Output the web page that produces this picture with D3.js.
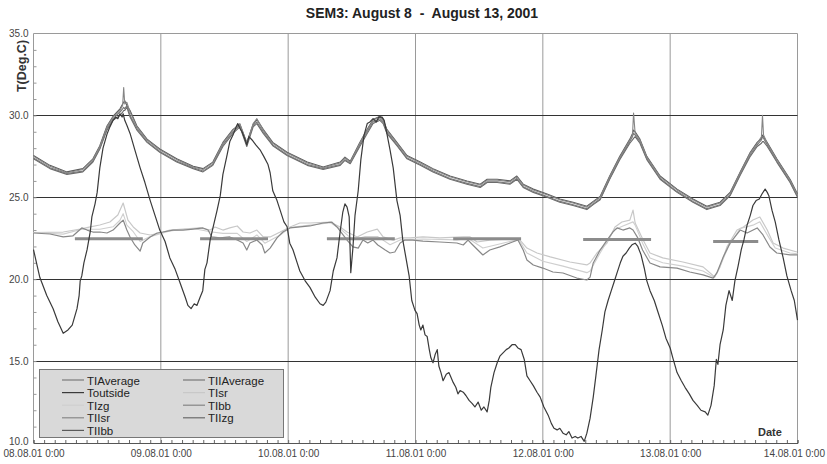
<!DOCTYPE html>
<html><head><meta charset="utf-8">
<script src="https://cdn.jsdelivr.net/npm/d3@7"></script>
<style>html,body{margin:0;padding:0;background:#fff}svg{display:block;font-family:"Liberation Sans",Arial,sans-serif}</style>
</head><body><svg id="c" width="827" height="464"></svg>
<script>
const title = "SEM3: August 8  -  August 13, 2001";
const yLabel = "T(Deg.C)";
const xLabel = "Date";
const xTickHours = [0,24,48,72,96,120,144];
const xTickLabels = ["08.08.01 0:00","09.08.01 0:00","10.08.01 0:00","11.08.01 0:00","12.08.01 0:00","13.08.01 0:00","14.08.01 0:00"];
const yTicks = [10,15,20,25,30,35];
const hGrid = [15,20,25,30];

// Outside temperature [hours since 08.08.01 0:00, deg C]
const Toutside = [[0,21.8],[1.2,20.1],[2.5,19.0],[3.7,18.2],[4.6,17.4],[5.6,16.7],[6.5,16.9],[7.3,17.2],[8.2,18.2],[8.6,19.0],[8.8,19.9],[9.1,20.2],[9.5,21.0],[10.1,21.8],[10.7,22.9],[11.0,23.8],[11.6,24.6],[12.0,25.3],[12.5,26.8],[13.1,28.0],[13.9,28.9],[14.4,29.3],[15.0,29.7],[15.5,29.9],[15.9,29.8],[16.3,30.1],[16.7,29.9],[16.9,30.1],[17.2,29.7],[17.6,29.4],[18.2,28.9],[19.1,27.9],[20.1,26.8],[21.0,25.9],[22.0,24.8],[22.9,23.9],[23.8,23.0],[24.8,22.3],[25.7,21.3],[26.7,20.6],[27.6,19.8],[28.6,18.9],[29.1,18.4],[29.7,18.2],[30.3,18.5],[30.8,18.4],[31.4,18.9],[31.9,19.3],[32.3,20.6],[32.7,21.0],[33.3,22.4],[33.8,23.1],[34.6,24.2],[35.2,25.1],[35.7,26.4],[36.5,27.6],[37.0,28.4],[37.6,28.8],[38.2,29.3],[38.5,29.5],[38.9,29.2],[39.3,29.0],[39.9,28.5],[40.2,28.2],[40.6,28.7],[41.2,28.5],[41.9,28.2],[42.7,27.9],[43.4,27.5],[44.2,27.0],[44.6,26.5],[45.1,25.4],[45.9,24.8],[46.5,24.2],[47.2,23.5],[47.8,23.2],[48.3,22.2],[48.9,21.8],[49.7,21.0],[50.2,20.5],[51.2,19.9],[52.1,19.5],[53.1,18.9],[54.0,18.5],[54.6,18.4],[55.1,18.6],[55.9,19.3],[56.5,20.5],[57.2,21.3],[57.8,22.9],[58.3,24.1],[58.7,24.6],[59.1,24.4],[59.5,23.8],[59.8,20.4],[60.2,21.9],[60.6,23.9],[61.2,25.4],[61.7,27.3],[62.3,28.8],[62.9,29.5],[63.4,29.6],[64.0,29.8],[64.6,29.6],[65.1,29.9],[65.7,29.9],[66.1,29.7],[66.6,28.9],[67.2,27.9],[67.8,26.8],[68.5,24.8],[69.1,23.9],[69.6,22.4],[70.2,21.3],[70.8,20.2],[71.3,18.7],[71.9,18.1],[72.3,17.9],[72.7,17.2],[73.0,16.9],[73.4,17.2],[73.8,16.6],[74.2,16.5],[74.6,15.7],[74.9,15.2],[75.3,14.9],[75.7,15.4],[76.1,15.7],[76.4,14.7],[76.8,14.3],[77.2,13.8],[77.8,14.2],[78.3,14.3],[78.7,14.0],[79.1,13.7],[79.6,13.4],[80.0,13.0],[80.4,13.2],[81.0,13.1],[81.5,12.9],[82.1,12.6],[82.7,12.4],[83.2,12.2],[83.8,12.5],[84.4,12.0],[84.9,12.2],[85.5,11.9],[85.9,12.6],[86.2,13.4],[86.8,14.3],[87.4,14.9],[87.9,15.3],[88.5,15.5],[89.1,15.7],[89.6,15.8],[90.2,16.0],[90.8,16.0],[91.3,15.8],[91.9,15.7],[92.5,15.1],[93.0,14.1],[93.6,13.8],[94.2,13.5],[94.9,13.1],[95.5,12.8],[96.2,12.2],[97.0,11.7],[97.6,11.2],[98.1,10.9],[98.7,10.8],[99.2,10.9],[99.8,10.6],[100.4,10.5],[100.9,10.7],[101.5,10.3],[102.1,10.4],[102.6,10.3],[103.2,10.4],[103.8,10.1],[104.3,10.6],[104.9,11.5],[105.5,12.8],[106.0,14.1],[106.6,15.7],[107.2,16.9],[107.7,18.0],[108.3,18.7],[108.9,19.3],[109.4,19.8],[110.0,20.4],[110.6,21.0],[111.1,21.4],[111.7,21.6],[112.3,21.9],[112.8,22.1],[113.4,22.2],[113.9,22.0],[114.5,21.5],[115.1,20.7],[115.6,19.9],[116.2,19.3],[117.0,18.7],[117.7,18.0],[118.5,17.2],[119.2,16.4],[120.0,15.8],[120.5,15.2],[121.3,14.3],[122.1,13.8],[122.8,13.4],[123.6,13.0],[124.3,12.6],[125.1,12.3],[125.8,12.0],[126.6,11.9],[127.1,11.7],[127.7,12.3],[128.3,13.5],[128.7,15.1],[129.0,14.8],[129.4,16.0],[130.0,16.9],[130.5,18.4],[131.1,19.3],[131.7,18.7],[132.2,19.9],[132.8,20.8],[133.4,21.8],[133.9,22.4],[134.5,23.3],[135.1,23.9],[135.6,24.5],[136.2,24.8],[136.8,24.9],[137.3,25.2],[137.9,25.5],[138.3,25.3],[138.6,25.1],[139.2,24.2],[139.8,23.5],[140.5,22.4],[141.3,21.3],[142.0,20.2],[142.8,19.3],[143.4,18.7],[144,17.5]];

// Upper group of indoor sensors: shared hours, one value list per series
const upperHours = [0,3.1,6.3,9.3,11.2,12.5,13.85,15.0,16.3,16.8,17.0,17.2,17.6,18.2,19.5,21.4,23.8,27.0,30.1,31.95,33.8,35.7,37.6,38.9,40.2,41.4,42.1,43.3,45.1,47.8,51.6,54.6,57.8,58.7,59.7,61.5,62.9,64.0,65.3,65.9,66.6,68.5,70.4,72.9,75.3,78.5,81.7,84.2,85.5,87.4,89.8,91.1,92.3,94.2,96.8,99.2,101.7,104.3,105.5,106.8,108.6,110.5,112.4,112.9,113.1,113.4,114.3,115.6,118.1,121.3,124.3,126.9,129.4,131.3,133.2,135.1,136.4,137.2,137.4,137.6,138.3,140.1,142.6,144];
const TIbb = [27.5,26.9,26.5,26.7,27.3,28.1,29.3,29.9,30.3,30.6,31.7,30.7,30.8,30.2,29.3,28.5,27.9,27.3,26.85,26.7,27.1,28.3,29.1,29.5,28.3,29.5,29.8,29.1,28.3,27.7,27.1,26.8,27.1,27.4,27.15,28.3,29.1,29.7,29.9,29.7,29.1,28.3,27.5,27.1,26.7,26.25,25.95,25.75,26.05,26.05,25.95,26.25,25.75,25.45,25.15,24.85,24.65,24.4,24.7,25.0,26.25,27.45,28.5,28.8,30.15,28.9,28.5,27.45,26.25,25.45,24.85,24.4,24.65,25.25,26.5,27.7,28.3,28.7,30.0,28.8,28.3,27.3,26.05,25.15];
const TIIAverage = [27.4,26.8,26.45,26.6,27.2,28.0,29.2,29.8,30.2,30.4,30.5,30.4,30.6,30.0,29.2,28.4,27.8,27.2,26.8,26.6,27.0,28.2,29.0,29.4,28.2,29.4,29.6,29.0,28.2,27.6,27.0,26.75,27.0,27.3,27.1,28.2,29.0,29.6,29.8,29.6,29.0,28.2,27.4,27.0,26.6,26.15,25.85,25.65,25.95,25.95,25.85,26.15,25.65,25.35,25.05,24.75,24.55,24.3,24.6,24.9,26.15,27.35,28.4,28.7,28.9,28.8,28.4,27.35,26.15,25.35,24.75,24.3,24.55,25.15,26.4,27.6,28.2,28.5,28.7,28.6,28.2,27.2,25.95,25.05];
const TIIzg = [27.35,26.75,26.4,26.55,27.15,27.95,29.1,29.7,30.0,30.2,30.3,30.3,30.5,29.9,29.1,28.35,27.75,27.15,26.75,26.55,26.95,28.1,28.9,29.3,28.1,29.3,29.5,28.9,28.15,27.55,26.95,26.7,26.95,27.25,27.05,28.1,28.9,29.5,29.7,29.5,28.9,28.15,27.35,26.95,26.55,26.1,25.8,25.6,25.9,25.9,25.8,26.1,25.6,25.3,25.0,24.7,24.5,24.25,24.55,24.85,26.1,27.3,28.3,28.5,28.6,28.7,28.3,27.3,26.1,25.3,24.7,24.25,24.5,25.1,26.35,27.5,28.1,28.3,28.4,28.4,28.1,27.15,25.9,25.0];
const TIIbb = [27.55,26.95,26.55,26.75,27.35,28.15,29.35,29.95,30.4,30.7,30.8,30.9,30.6,30.3,29.35,28.55,27.95,27.35,26.9,26.75,27.15,28.35,29.15,29.45,28.35,29.45,29.75,29.15,28.35,27.75,27.15,26.85,27.15,27.45,27.2,28.35,29.15,29.75,29.95,29.75,29.15,28.35,27.55,27.15,26.75,26.3,26.0,25.8,26.1,26.1,26.0,26.3,25.8,25.5,25.2,24.9,24.7,24.45,24.75,25.05,26.3,27.5,28.55,28.9,29.1,29.0,28.55,27.5,26.3,25.5,24.9,24.45,24.7,25.3,26.55,27.75,28.35,28.6,28.8,28.7,28.35,27.35,26.1,25.2];

// Lower group
const TIsr = [[0,22.85],[5.6,22.88],[8.8,23.06],[10.7,23.19],[12.5,23.31],[14.4,23.49],[15.9,23.92],[16.9,24.65],[17.8,23.61],[18.8,23.19],[20.1,22.82],[22.0,22.7],[23.8,22.82],[25.7,23.0],[28.2,23.06],[31.4,23.13],[33.3,23.0],[34.2,23.19],[35.7,23.0],[37.0,23.13],[38.4,23.25],[39.5,22.88],[40.8,22.82],[42.1,23.0],[43.3,22.58],[44.6,22.58],[46.5,22.88],[48.35,23.19],[50.2,23.43],[52.1,23.43],[55.9,23.49],[57.8,23.19],[59.1,22.88],[61.0,22.58],[62.9,22.88],[64.8,23.06],[65.9,22.58],[67.8,22.39],[69.1,22.52],[71.0,22.52],[73.4,22.58],[76.6,22.52],[81.0,22.58],[82.3,22.58],[83.6,22.27],[86.0,22.39],[89.2,22.45],[91.7,22.39],[93.0,21.9],[94.9,21.6],[97.4,21.36],[101.1,21.05],[104.3,20.87],[104.9,20.99],[106.2,21.6],[108.1,22.21],[109.6,23.19],[110.9,23.49],[112.4,23.61],[113.0,24.22],[113.4,23.43],[114.9,22.39],[116.2,21.6],[118.6,21.3],[122.4,21.05],[126.2,20.75],[128.4,20.13],[129.4,20.75],[130.7,21.97],[132.6,23.0],[133.8,23.19],[135.6,23.61],[136.9,23.8],[138.3,23.0],[139.4,22.21],[141.3,21.9],[143.9,21.66]];
const TIzg = [[0,22.85],[5.6,22.75],[9.1,23.05],[12.5,23.05],[15.0,23.2],[16.3,23.6],[16.9,24.0],[17.6,23.3],[18.8,22.9],[20.1,22.3],[22.0,22.6],[25.7,22.95],[30.1,23.1],[33.3,22.9],[35.7,22.8],[38.4,22.8],[40.2,22.3],[42.1,22.7],[43.6,22.2],[46.5,22.7],[48.35,23.15],[52.1,23.3],[56.0,23.45],[58.1,23.0],[60.2,22.4],[62.5,22.6],[64.9,22.6],[67.2,22.1],[69.1,22.4],[73.4,22.45],[79.8,22.4],[81.9,22.5],[84.7,21.9],[89.8,22.3],[91.5,22.4],[93.0,21.6],[96.0,21.1],[99.8,20.8],[104.3,20.4],[104.9,20.5],[106.8,21.6],[109.4,23.0],[111.1,23.25],[113.0,23.5],[113.4,23.3],[114.8,22.2],[116.2,21.3],[118.6,21.0],[122.4,20.8],[126.2,20.5],[128.3,20.1],[129.0,20.5],[131.0,22.0],[133.2,23.1],[135.6,23.3],[136.9,23.5],[138.5,22.6],[139.8,21.9],[142.6,21.6],[144,21.55]];
const TIIsr = [[0,22.82],[3.1,22.76],[5.6,22.58],[7.4,22.64],[9.1,23.13],[10.1,23.0],[11.2,22.88],[12.5,22.88],[13.85,22.82],[15.0,23.0],[16.3,23.43],[16.9,23.61],[17.6,23.0],[18.2,22.58],[19.1,22.09],[20.1,21.72],[20.6,22.21],[22.0,22.58],[23.3,22.82],[24.4,22.88],[26.3,23.0],[28.2,23.0],[30.1,23.06],[31.95,23.13],[32.9,23.0],[33.6,22.58],[35.15,22.52],[37.0,22.58],[38.4,22.39],[39.5,22.21],[40.2,21.78],[40.8,22.21],[42.1,22.39],[43.1,22.09],[43.6,21.6],[44.6,21.9],[45.9,22.52],[47.0,22.88],[48.35,23.13],[52.1,23.25],[54.6,23.43],[56.2,23.49],[57.2,23.19],[58.1,22.82],[59.1,22.39],[60.2,21.97],[61.2,21.9],[62.1,22.39],[63.0,22.21],[64.0,22.39],[64.9,22.09],[66.3,21.78],[67.2,21.6],[68.1,21.66],[69.1,22.21],[70.0,22.39],[71.5,22.39],[73.4,22.33],[76.6,22.27],[79.8,22.21],[81.0,22.09],[81.9,22.39],[82.8,22.09],[84.7,21.48],[86.0,21.78],[87.9,21.97],[89.8,22.21],[91.3,22.39],[92.3,21.78],[93.0,21.17],[94.2,20.87],[96.0,20.68],[97.9,20.44],[99.8,20.38],[102.4,20.07],[104.3,19.95],[104.9,20.13],[105.5,20.99],[106.8,21.78],[108.1,22.39],[109.2,22.88],[110.0,23.13],[111.1,23.0],[112.4,23.13],[113.0,23.0],[113.9,22.52],[114.8,21.78],[116.2,20.99],[118.1,20.75],[121.3,20.68],[123.7,20.44],[126.2,20.26],[128.1,20.07],[128.8,20.38],[130.0,21.36],[131.3,22.21],[133.2,23.0],[134.5,22.82],[136.4,23.13],[137.5,22.7],[138.8,21.97],[140.1,21.6],[142.6,21.48],[144,21.48]];
// Daytime averages (segments)
const TIAverage = [[7.8,22.47],[20.6,22.47],null,[31.4,22.47],[44.2,22.47],null,[55.3,22.47],[68.1,22.47],null,[79.1,22.47],[91.9,22.47],null,[103.6,22.42],[116.4,22.42],null,[128.1,22.3],[136.6,22.3]];

const legendOrder = ["TIAverage","TIIAverage","Toutside","TIsr","TIzg","TIbb","TIIsr","TIIzg","TIIbb"];

const svg = d3.select("#c");
const L = 33.5, R = 797.5, T = 33.5, B = 443;
const x = d3.scaleLinear().domain([0,144]).range([L,R]);
const y = d3.scaleLinear().domain([10,35]).range([B,T]);

const styles = {
  TIAverage:{c:"#8c8c8c",w:3},
  TIIAverage:{c:"#777",w:1.1},
  Toutside:{c:"#3a3a3a",w:1.2},
  TIsr:{c:"#c8c8c8",w:1.2},
  TIzg:{c:"#cfcfcf",w:1.1},
  TIbb:{c:"#858585",w:1.1},
  TIIsr:{c:"#888",w:1.2},
  TIIzg:{c:"#6a6a6a",w:1.1},
  TIIbb:{c:"#5a5a5a",w:1.1}
};

// title
svg.append("text").attr("x",422).attr("y",18).attr("text-anchor","middle")
  .attr("font-size",14).attr("font-weight","bold").attr("fill","#222")
  .style("white-space","pre").text(title);

// vertical day grid
svg.append("g").selectAll("line").data(xTickHours.slice(1,-1)).join("line")
  .attr("x1",d=>x(d)).attr("x2",d=>x(d)).attr("y1",T).attr("y2",B)
  .attr("stroke","#9a9a9a").attr("stroke-width",1);
// frame
svg.append("path").attr("d",`M${L},${B}V${T}H${R}V${B}`).attr("fill","none").attr("stroke","#9a9a9a");
// horizontal grid
svg.append("g").selectAll("line").data(hGrid).join("line")
  .attr("x1",L).attr("x2",R).attr("y1",d=>Math.round(y(d))+0.5).attr("y2",d=>Math.round(y(d))+0.5)
  .attr("stroke","#333").attr("stroke-width",1);

// axes
const yAx = svg.append("g").attr("transform",`translate(${L},0)`)
  .call(d3.axisLeft(y).tickValues(yTicks).tickFormat(d3.format(".1f")).tickSize(0).tickPadding(5));
yAx.select(".domain").remove();
yAx.selectAll("text").attr("font-size",10).attr("fill","#444").attr("font-family","Liberation Sans, Arial");
yAx.selectAll(".tick").filter(d=>d===10).select("text").attr("dy","0.15em");
const yMinor = svg.append("g").attr("transform",`translate(${L},0)`)
  .call(d3.axisRight(y).tickValues(d3.range(10,35,1)).tickFormat("").tickSize(3));
yMinor.select(".domain").remove();
yMinor.selectAll("line").attr("stroke","#999");

const xMinor = svg.append("g").attr("transform",`translate(0,${B})`)
  .call(d3.axisTop(x).tickValues(d3.range(0,145,2)).tickFormat("").tickSize(3));
xMinor.select(".domain").attr("stroke","#555");
xMinor.selectAll("line").attr("stroke","#666");
const xAx = svg.append("g").attr("transform",`translate(0,${B})`)
  .call(d3.axisBottom(x).tickValues(xTickHours).tickFormat((d,i)=>xTickLabels[i]).tickSize(0).tickPadding(7));
xAx.select(".domain").remove();
xAx.selectAll("text").attr("font-size",10).attr("fill","#444").attr("font-family","Liberation Sans, Arial");
xAx.selectAll(".tick").filter(d=>d===144).select("text").attr("text-anchor","end").attr("dx","27");

svg.append("text").attr("transform","translate(26,66) rotate(-90)").attr("text-anchor","middle")
  .attr("font-size",12.5).attr("font-weight","bold").attr("fill","#333").text(yLabel);
svg.append("text").attr("x",758).attr("y",436).attr("font-size",11).attr("font-weight","bold").attr("fill","#333").text(xLabel);

// series
const line = d3.line().defined(d=>d!=null).x(d=>x(d[0])).y(d=>y(d[1]));
const series = [
  ["TIsr",TIsr],["TIzg",TIzg],["TIIsr",TIIsr],["TIAverage",TIAverage],
  ["TIIzg",d3.zip(upperHours,TIIzg)],["TIIbb",d3.zip(upperHours,TIIbb)],
  ["TIIAverage",d3.zip(upperHours,TIIAverage)],["TIbb",d3.zip(upperHours,TIbb)],
  ["Toutside",Toutside]
];
const gS = svg.append("g");
series.forEach(([n,d])=>{
  gS.append("path").datum(d).attr("d",line).attr("fill","none")
    .attr("stroke",styles[n].c).attr("stroke-width",styles[n].w).attr("stroke-linejoin","round");
});

// legend
const lg = svg.append("g");
lg.append("rect").attr("x",39.5).attr("y",369.5).attr("width",244).attr("height",68)
  .attr("fill","#d9d9d9").attr("stroke","#777");
legendOrder.forEach((n,i)=>{
  const col = i%2, row = Math.floor(i/2);
  const sx = col? 183:62, cy = 380 + row*12.6;
  lg.append("line").attr("x1",sx).attr("x2",sx+22).attr("y1",cy).attr("y2",cy)
    .attr("stroke",styles[n].c).attr("stroke-width",n==="TIAverage"?1.5:1.2);
  lg.append("text").attr("x",sx+25).attr("y",cy+4.5).attr("font-size",11.5).attr("fill","#222").text(n);
});
</script></body></html>
